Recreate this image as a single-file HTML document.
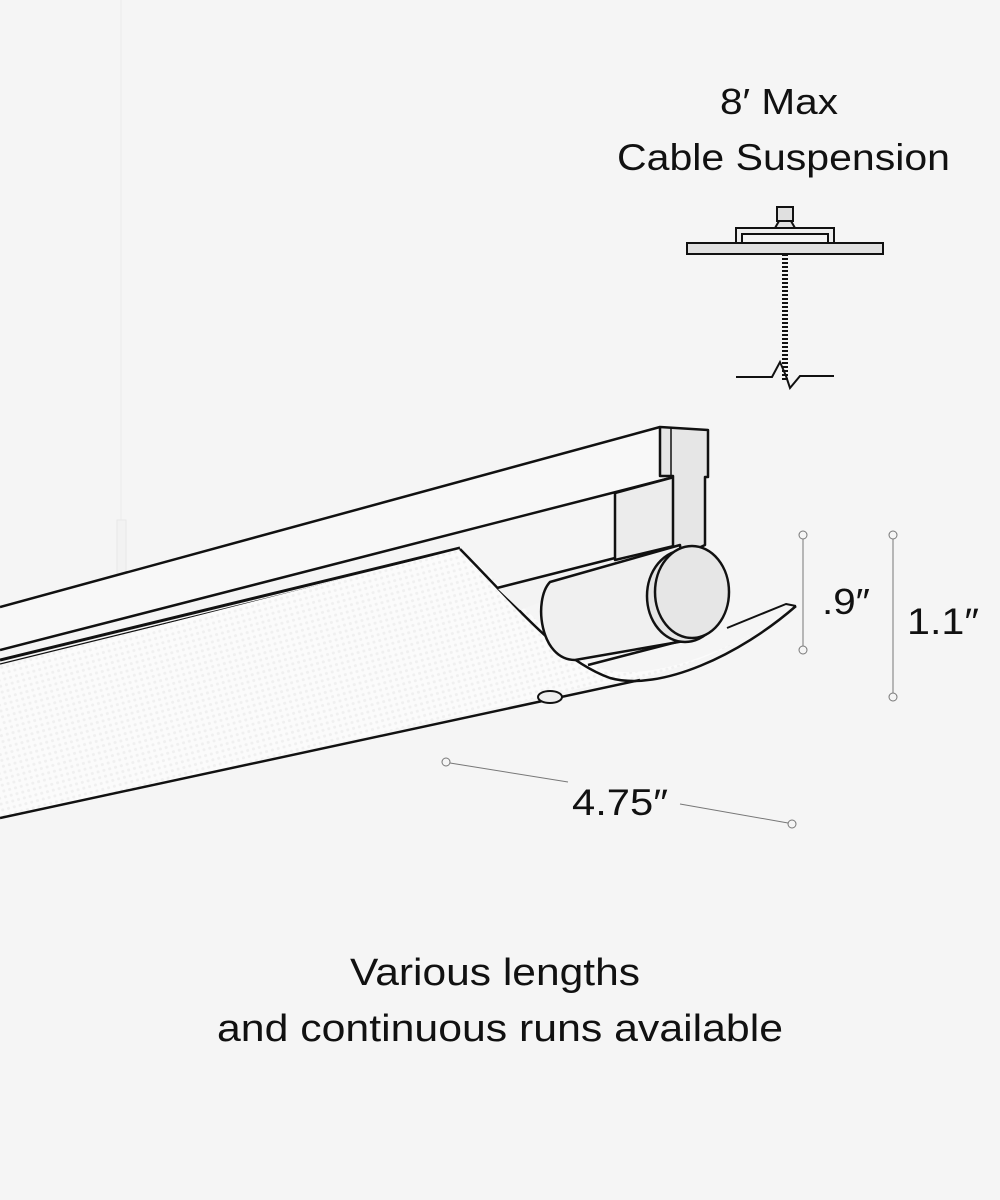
<!DOCTYPE html>
<html><head><meta charset="utf-8"><style>
html,body{margin:0;padding:0;background:#f5f5f5;}
svg{display:block}
text{font-family:"Liberation Sans",sans-serif;fill:#111}
</style></head><body>
<svg width="1000" height="1200" viewBox="0 0 1000 1200" xmlns="http://www.w3.org/2000/svg">
<defs>
<pattern id="dots" width="6" height="6" patternUnits="userSpaceOnUse" patternTransform="rotate(-15)">
<rect width="6" height="6" fill="#fbfbfb"/><circle cx="3" cy="3" r="1.5" fill="#f0f0f0"/></pattern>
</defs>
<rect width="1000" height="1200" fill="#f5f5f5"/>
<line x1="121" y1="0" x2="121" y2="520" stroke="#ececec" stroke-width="1"/>
<rect x="117" y="520" width="9" height="55" fill="#f2f2f2" stroke="#e8e8e8"/>

<text x="720" y="114" font-size="36" textLength="118" lengthAdjust="spacingAndGlyphs">8′ Max</text>
<text x="617" y="170" font-size="37" textLength="333" lengthAdjust="spacingAndGlyphs">Cable Suspension</text>

<g stroke="#111" stroke-width="2" fill="#e0e0e0">
<rect x="777" y="207" width="16" height="14"/>
<path d="M775 228 L779 221 L791 221 L795 228 Z"/>
<rect x="736" y="228" width="98" height="15" fill="#eee"/>
<rect x="742" y="234" width="86" height="9" fill="#f5f5f5"/>
<rect x="687" y="243" width="196" height="11"/>
</g>
<line x1="785" y1="254" x2="785" y2="380" stroke="#111" stroke-width="6" stroke-dasharray="2 2"/>
<polyline points="736,377 772,377 780,362 786,376 790,388 800,376 834,376" fill="none" stroke="#111" stroke-width="2"/>

<g stroke="#111" stroke-width="2.5" stroke-linejoin="round">
<path d="M0 607 L660 426 L678 476 L0 650 Z" fill="#f8f8f8" stroke="none"/>
<line x1="0" y1="607" x2="660" y2="427"/>
<line x1="0" y1="650" x2="678" y2="476"/>
<path d="M0 660 L460 548" fill="none" stroke-width="3"/>
<line x1="0" y1="664" x2="455" y2="552" stroke-width="1.2"/>
<path d="M0 666 L460 549 C520 600 560 650 600 668 C640 682 720 660 796 606 L786 612 C720 660 640 682 600 684 L0 818 Z" fill="url(#dots)" stroke="none"/>
<path d="M460 549 C520 610 560 660 610 678 C660 692 740 655 796 606" fill="none"/>
<line x1="0" y1="818" x2="640" y2="680"/>
<path d="M727 628 L786 604 L796 606" fill="none" stroke-width="2"/>
<path d="M497 588 L660 545 L690 540 L690 545 L520 610 Z" fill="#f3f3f3" stroke="none"/>
<line x1="497" y1="588" x2="615" y2="558"/>
<path d="M615 493 L678 476 L678 545 L615 560 Z" fill="#ececec"/>
<path d="M660 427 L708 430 L708 477 L705 477 L705 545 L673 560 L673 476 L660 476 Z" fill="#e6e6e6"/>
<line x1="671" y1="427" x2="671" y2="476" stroke-width="1.5"/>
<path d="M550 582 L680 545 L690 640 L575 660 C540 660 533 600 550 582 Z" fill="#f0f0f0"/>
<line x1="588" y1="665" x2="700" y2="636"/>
<ellipse cx="685" cy="596" rx="38" ry="46" fill="#e4e4e4"/>
<ellipse cx="692" cy="592" rx="37" ry="46" fill="#e6e6e6"/>
<ellipse cx="550" cy="697" rx="12" ry="6" fill="#eee" stroke-width="2"/>
</g>

<g stroke="#777" stroke-width="1" fill="#f5f5f5">
<line x1="803" y1="539" x2="803" y2="646"/>
<circle cx="803" cy="535" r="4"/><circle cx="803" cy="650" r="4"/>
<line x1="893" y1="539" x2="893" y2="693"/>
<circle cx="893" cy="535" r="4"/><circle cx="893" cy="697" r="4"/>
<line x1="450" y1="763" x2="568" y2="782"/>
<line x1="680" y1="804" x2="788" y2="823"/>
<circle cx="446" cy="762" r="4"/><circle cx="792" cy="824" r="4"/>
</g>
<text x="822" y="614" font-size="36" textLength="48" lengthAdjust="spacingAndGlyphs">.9″</text>
<text x="907" y="634" font-size="37" textLength="72" lengthAdjust="spacingAndGlyphs">1.1″</text>
<text x="572" y="815" font-size="37" textLength="96" lengthAdjust="spacingAndGlyphs">4.75″</text>

<text x="350" y="985" font-size="38" textLength="290" lengthAdjust="spacingAndGlyphs">Various lengths</text>
<text x="217" y="1041" font-size="38" textLength="566" lengthAdjust="spacingAndGlyphs">and continuous runs available</text>
</svg>
</body></html>
